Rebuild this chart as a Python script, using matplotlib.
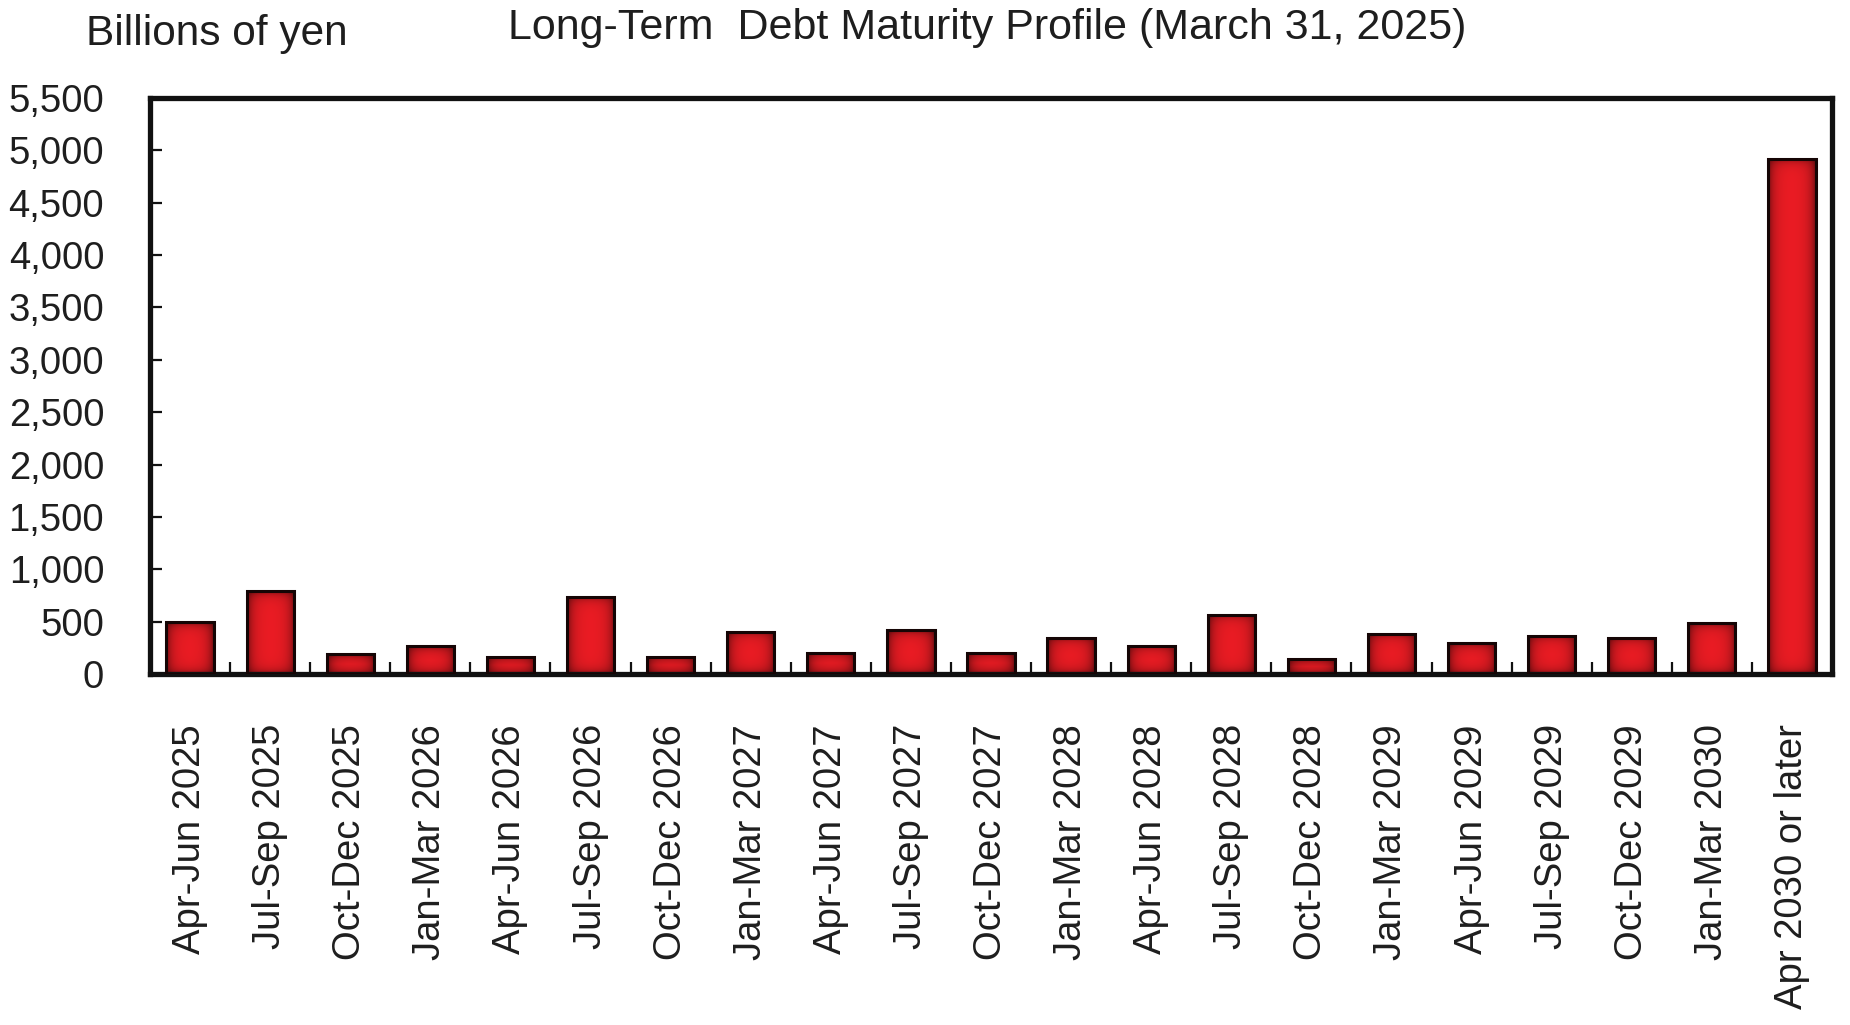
import numpy as np
import matplotlib
matplotlib.use("Agg")
import matplotlib.pyplot as plt

categories = ["Apr-Jun 2025", "Jul-Sep 2025", "Oct-Dec 2025", "Jan-Mar 2026",
              "Apr-Jun 2026", "Jul-Sep 2026", "Oct-Dec 2026", "Jan-Mar 2027",
              "Apr-Jun 2027", "Jul-Sep 2027", "Oct-Dec 2027", "Jan-Mar 2028",
              "Apr-Jun 2028", "Jul-Sep 2028", "Oct-Dec 2028", "Jan-Mar 2029",
              "Apr-Jun 2029", "Jul-Sep 2029", "Oct-Dec 2029", "Jan-Mar 2030",
              "Apr 2030 or later"]
values = [495, 790, 190, 265, 165, 740, 165, 405, 205, 420, 205, 345,
          268, 565, 143, 385, 293, 366, 347, 486, 4920]
yticks = [0, 500, 1000, 1500, 2000, 2500, 3000, 3500, 4000, 4500, 5000, 5500]
ytick_labels = ["0", "500", "1,000", "1,500", "2,000", "2,500", "3,000",
                "3,500", "4,000", "4,500", "5,000", "5,500"]
title = "Long-Term  Debt Maturity Profile (March 31, 2025)"
unit_label = "Billions of yen"

plt.rcParams['font.family'] = ['Liberation Sans', 'DejaVu Sans']
txt = '#1e1e1e'

W, H = 1850, 1025
fig = plt.figure(figsize=(W / 100, H / 100), dpi=100)
ax = fig.add_axes([150 / W, 1 - 674 / H, (1832 - 150) / W, (674 - 98) / H])

x = np.arange(len(categories))
bars = ax.bar(x, values, width=0.59, facecolor='none', edgecolor='#150505',
              linewidth=2.2, zorder=3)
ax.set_xlim(-0.5, len(categories) - 0.5)
ax.set_ylim(0, 5500)

# shaded fill for each bar (dark edges, bright red centre)
base = np.array([0.925, 0.11, 0.14])
for rect in bars:
    x0, y0 = rect.get_x(), rect.get_y()
    w, h = rect.get_width(), rect.get_height()
    (px0, py0), (px1, py1) = ax.transData.transform([(x0, y0), (x0 + w, y0 + h)])
    nw = max(int(round(px1 - px0)), 2)
    nh = max(int(round(py1 - py0)), 2)
    xs = np.arange(nw) + 0.5
    ys = np.arange(nh) + 0.5
    dx = np.minimum(xs, nw - xs)
    dy = np.minimum(ys, nh - ys)
    fx = 1 - 0.55 * np.exp(-dx / 5.5)
    fy = 1 - 0.45 * np.exp(-dy / 4.5)
    f = np.outer(fy, fx)
    img = base[None, None, :] * f[..., None]
    ax.imshow(img, extent=(x0, x0 + w, y0, y0 + h), aspect='auto',
              origin='lower', interpolation='bilinear', zorder=2)

ax.set_xlim(-0.5, len(categories) - 0.5)
ax.set_ylim(0, 5500)

for s in ax.spines.values():
    s.set_linewidth(3.8)
    s.set_color('#111111')

ax.set_yticks(yticks)
ax.set_yticklabels(ytick_labels)
ax.tick_params(axis='y', direction='in', length=8.5, width=1.6, pad=33,
               labelsize=27.5, labelcolor=txt, color='#111111')

ax.set_xticks(x)
ax.set_xticklabels(categories, rotation=90, ha='center', va='top')
ax.tick_params(axis='x', which='major', length=0, pad=36, labelsize=27.5,
               labelcolor=txt)
ax.set_xticks(np.arange(0.5, len(categories) - 1, 1.0), minor=True)
ax.tick_params(axis='x', which='minor', direction='in', length=8.5, width=1.6,
               color='#111111')

fig.text(86 / W, 1 - 34 / H, unit_label, ha='left', va='center',
         fontsize=30.5, color=txt)
fig.text(987 / W, 1 - 28 / H, title, ha='center', va='center',
         fontsize=31, color=txt)

fig.savefig("out.png", dpi=100, facecolor='white')
